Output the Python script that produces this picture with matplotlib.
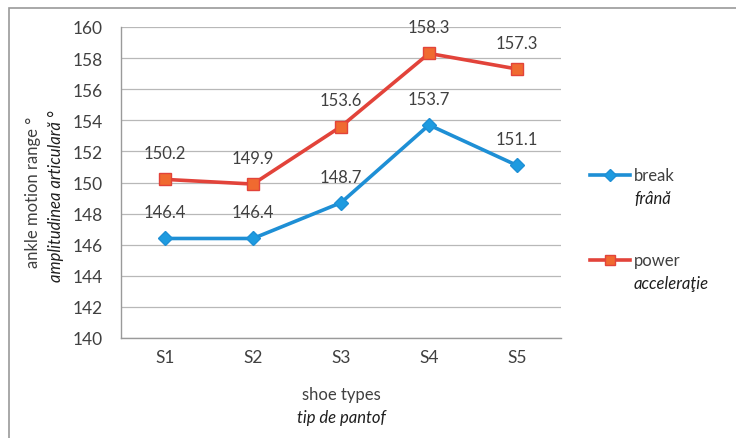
import matplotlib
matplotlib.use("Agg")
import matplotlib.pyplot as plt
from matplotlib.lines import Line2D
from matplotlib.patches import Rectangle

categories = ["S1", "S2", "S3", "S4", "S5"]
break_vals = [146.4, 146.4, 148.7, 153.7, 151.1]
power_vals = [150.2, 149.9, 153.6, 158.3, 157.3]
yticks = [140, 142, 144, 146, 148, 150, 152, 154, 156, 158, 160]

plt.rcParams['font.family'] = ['Lato', 'DejaVu Sans']
txt = '#404040'
dark = '#1e1e1e'
fs = 12

fig = plt.figure(figsize=(7.36, 4.39), dpi=100)
fig.patches.append(Rectangle((9/736, -0.1), 1.0, 1 - 9/439 + 0.1, transform=fig.transFigure,
                             fill=False, edgecolor='#9a9a9a', linewidth=1.2))
ax = fig.add_axes([121/736, 1 - 339/439, 440/736, 311/439])

x = range(len(categories))
blue = '#1E8FD5'
red = '#E2433A'
ax.plot(x, break_vals, color=blue, lw=2.6, marker='D', ms=7, mfc='#1E9BE0', mec=blue, zorder=3)
ax.plot(x, power_vals, color=red, lw=2.6, marker='s', ms=8.5, mfc='#F06A30', mec=red, zorder=3)

for i, v in enumerate(break_vals):
    ax.annotate(f"{v:.1f}", (i, v), xytext=(0, 13), textcoords='offset points',
                ha='center', va='bottom', fontsize=fs, color=txt)
for i, v in enumerate(power_vals):
    ax.annotate(f"{v:.1f}", (i, v), xytext=(0, 13), textcoords='offset points',
                ha='center', va='bottom', fontsize=fs, color=txt)

ax.set_xlim(-0.5, 4.5)
ax.set_ylim(140, 160)
ax.set_yticks(yticks)
ax.set_xticks(list(x))
ax.set_xticklabels(categories)
ax.tick_params(axis='both', labelsize=12.5, colors=txt, length=0, pad=8)
ax.tick_params(axis='y', pad=13)
ax.grid(axis='y', color='#b8b8b8', lw=0.9)
ax.set_axisbelow(True)
for s in ['top', 'right']:
    ax.spines[s].set_visible(False)
for s in ['left', 'bottom']:
    ax.spines[s].set_color('#9a9a9a')
    ax.spines[s].set_linewidth(1.0)

# y label
fig.text(33/736, 1 - 192/439, "ankle motion range °", rotation=90, ha='center', va='center',
         fontsize=fs, color=txt)
fig.text(56/736, 1 - 196/439, "amplitudinea articulară °", rotation=90, ha='center', va='center',
         fontsize=fs, color=dark, style='italic')

# x label
fig.text(341/736, 1 - 395/439, "shoe types", ha='center', va='center', fontsize=fs, color=txt)
fig.text(341/736, 1 - 418/439, "tip de pantof", ha='center', va='center', fontsize=fs,
         color=dark, style='italic')

# legend
def leg_line(y, color, marker, mfc, ms):
    fig.add_artist(Line2D([590/736, 630/736], [1 - y/439] * 2, color=color, lw=2.6,
                          transform=fig.transFigure))
    fig.add_artist(Line2D([610/736], [1 - y/439], color=color, marker=marker, ms=ms,
                          mfc=mfc, mec=color, transform=fig.transFigure))

leg_line(176, blue, 'D', '#1E9BE0', 6)
fig.text(634/736, 1 - 176/439, "break", ha='left', va='center', fontsize=fs, color=txt)
fig.text(634/736, 1 - 199/439, "frână", ha='left', va='center', fontsize=fs, color=dark,
         style='italic')
leg_line(261, red, 's', '#F06A30', 7.5)
fig.text(634/736, 1 - 261/439, "power", ha='left', va='center', fontsize=fs, color=txt)
fig.text(634/736, 1 - 284/439, "acceleraţie", ha='left', va='center', fontsize=fs, color=dark,
         style='italic')

fig.savefig("out.png", dpi=100)
